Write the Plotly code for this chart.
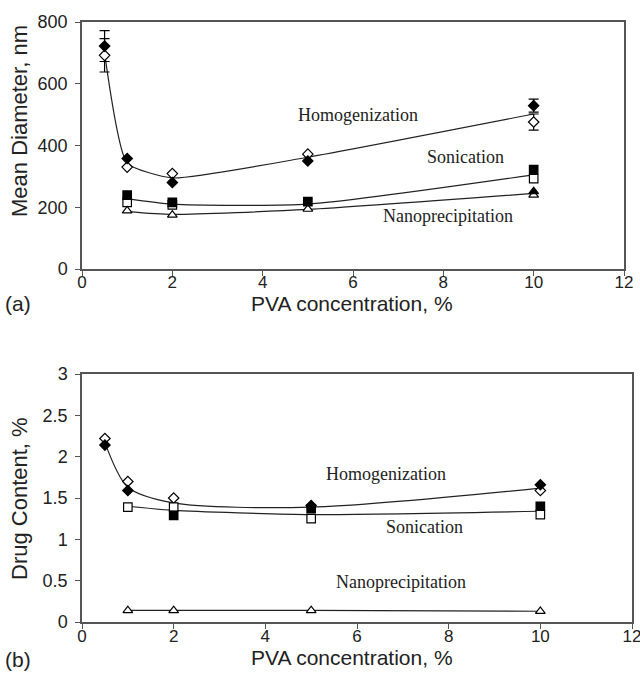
import plotly.graph_objects as go

W, H = 640, 677

# ---------------- data ----------------
pva5 = [0.5, 1, 2, 5, 10]
pva4 = [1, 2, 5, 10]

# (a) Mean diameter, nm
diam_homog_filled = [722, 358, 280, 350, 529]
diam_homog_open = [692, 330, 309, 372, 476]
diam_homog_filled_err = [50, None, None, None, 21]
diam_homog_open_err = [54, None, None, None, 26]
diam_homog_line = [700, 343, 295, 362, 502]

diam_son_filled = [239, 216, 218, 322]
diam_son_open = [216, 208, None, 293]
diam_son_line = [228, 210, 210, 305]

diam_nano_filled = [None, None, None, 251]
diam_nano_open = [189, 175, 194, 240]
diam_nano_line = [186, 177, 193, 245]

# (b) Drug content, %
drug_homog_filled = [2.14, 1.59, None, 1.41, 1.66]
drug_homog_open = [2.22, 1.70, 1.50, None, 1.59]
drug_homog_line = [2.17, 1.63, 1.44, 1.39, 1.62]

drug_son_filled = [None, 1.29, 1.37, 1.40]
drug_son_open = [1.39, 1.39, 1.25, 1.30]
drug_son_line = [1.40, 1.35, 1.30, 1.34]

drug_nano_open = [0.14, 0.14, 0.14, 0.13]
drug_nano_line = [0.14, 0.14, 0.14, 0.13]

labels = ["Homogenization", "Sonication", "Nanoprecipitation"]

x_ticks = [0, 2, 4, 6, 8, 10, 12]
diam_ticks = [0, 200, 400, 600, 800]
drug_ticks = [0, 0.5, 1, 1.5, 2, 2.5, 3]
drug_ticktext = ["0", "0.5", "1", "1.5", "2", "2.5", "3"]

# ---------------- styles ----------------
LINE_C = "#222222"
AX_C = "#555555"
SANS = "Liberation Sans, Arial, sans-serif"
SERIF = "Liberation Serif, Times New Roman, serif"

fig = go.Figure()


def line(x, y, xa, ya, smooth=0.6):
    fig.add_trace(go.Scatter(x=x, y=y, mode="lines", xaxis=xa, yaxis=ya,
                             line=dict(color=LINE_C, width=1.2, shape="spline", smoothing=smooth),
                             hoverinfo="skip", showlegend=False))


def markers(x, y, symbol, filled, size, xa, ya):
    fig.add_trace(go.Scatter(x=x, y=y, mode="markers", xaxis=xa, yaxis=ya,
                             marker=dict(symbol=symbol, size=size,
                                         color="black" if filled else "white",
                                         line=dict(color="black", width=1.2)),
                             showlegend=False))


def errbars(x, y, err, xa, ya):
    xs = [xx for xx, e in zip(x, err) if e is not None]
    ys = [yy for yy, e in zip(y, err) if e is not None]
    es = [e for e in err if e is not None]
    fig.add_trace(go.Scatter(x=xs, y=ys, mode="markers", xaxis=xa, yaxis=ya,
                             marker=dict(size=1, opacity=0),
                             error_y=dict(type="data", array=es, visible=True,
                                          color="black", thickness=1.2, width=5),
                             hoverinfo="skip", showlegend=False))


# ---- panel (a)
line(pva5, diam_homog_line, "x", "y", 0.5)
line(pva4, diam_son_line, "x", "y")
line(pva4, diam_nano_line, "x", "y")
errbars(pva5, diam_homog_filled, diam_homog_filled_err, "x", "y")
errbars(pva5, diam_homog_open, diam_homog_open_err, "x", "y")
markers(pva5, diam_homog_open, "diamond", False, 8, "x", "y")
markers(pva4, diam_son_open, "square", False, 8.5, "x", "y")
markers(pva4, diam_nano_open, "triangle-up", False, 8.5, "x", "y")
markers(pva5, diam_homog_filled, "diamond", True, 8, "x", "y")
markers(pva4, diam_son_filled, "square", True, 8.5, "x", "y")
markers(pva4, diam_nano_filled, "triangle-up", True, 8.5, "x", "y")

# ---- panel (b)
line(pva5, drug_homog_line, "x2", "y2", 0.8)
line(pva4, drug_son_line, "x2", "y2")
line(pva4, drug_nano_line, "x2", "y2")
markers(pva5, drug_homog_open, "diamond", False, 8, "x2", "y2")
markers(pva4, drug_son_open, "square", False, 8.5, "x2", "y2")
markers(pva4, drug_nano_open, "triangle-up", False, 8.5, "x2", "y2")
markers(pva5, drug_homog_filled, "diamond", True, 8, "x2", "y2")
markers(pva4, drug_son_filled, "square", True, 8.5, "x2", "y2")


def px(x):
    return x / W


def py(y):
    return 1 - y / H


axis_common = dict(showline=True, linecolor=AX_C, linewidth=1.5, mirror=True,
                   ticks="outside", ticklen=5, tickwidth=1.2, tickcolor=AX_C,
                   showgrid=False, zeroline=False, automargin=False,
                   ticklabeloverflow="allow")
tf18 = dict(family=SANS, size=18, color="#222222")
tf17 = dict(family=SANS, size=17, color="#222222")

fig.update_layout(
    width=W, height=H,
    margin=dict(l=0, r=0, t=0, b=0),
    paper_bgcolor="white", plot_bgcolor="white",
    xaxis=dict(domain=[px(82), px(624)], range=[0, 12], tickvals=x_ticks,
               anchor="y", ticklabelstandoff=-8, tickfont=tf17, **axis_common),
    yaxis=dict(domain=[py(269), py(22)], range=[0, 800], tickvals=diam_ticks,
               anchor="x", ticklabelstandoff=4, tickfont=tf18, **axis_common),
    xaxis2=dict(domain=[px(82), px(632)], range=[0, 12], tickvals=x_ticks,
                anchor="y2", ticklabelstandoff=-7, tickfont=tf17, **axis_common),
    yaxis2=dict(domain=[py(622), py(374)], range=[0, 3], tickvals=drug_ticks,
                ticktext=drug_ticktext, anchor="x2", ticklabelstandoff=4,
                tickfont=tf18, **axis_common),
)

ann = []
# series labels (data coordinates)
for (t, x, y) in zip(labels, [6.11, 8.50, 8.10], [500, 364, 172]):
    ann.append(dict(text=t, x=x, y=y, xref="x", yref="y", showarrow=False,
                    xanchor="center", yanchor="middle",
                    font=dict(family=SERIF, size=18, color="#222222")))
for (t, x, y) in zip(labels, [6.63, 7.48, 6.96], [1.79, 1.15, 0.48]):
    ann.append(dict(text=t, x=x, y=y, xref="x2", yref="y2", showarrow=False,
                    xanchor="center", yanchor="middle",
                    font=dict(family=SERIF, size=18, color="#222222")))

paper_texts = [
    ("Mean Diameter, nm", 19, 121, -90, 22),
    ("Drug Content, %", 19, 499, -90, 22),
    ("PVA concentration, %", 352, 303, 0, 21),
    ("PVA concentration, %", 352, 657, 0, 21),
    ("(a)", 18, 303, 0, 21),
    ("(b)", 18, 659, 0, 21),
]
for (t, x, y, ang, fs) in paper_texts:
    ann.append(dict(text=t, x=px(x), y=py(y), xref="paper", yref="paper",
                    xanchor="center", yanchor="middle", textangle=ang,
                    showarrow=False, font=dict(family=SANS, size=fs, color="#222222")))
fig.update_layout(annotations=ann)

fig.write_html(
    "out.html",
    config={"displayModeBar": False},
    post_script="document.body.style.margin='0';document.body.style.overflow='hidden';",
)
